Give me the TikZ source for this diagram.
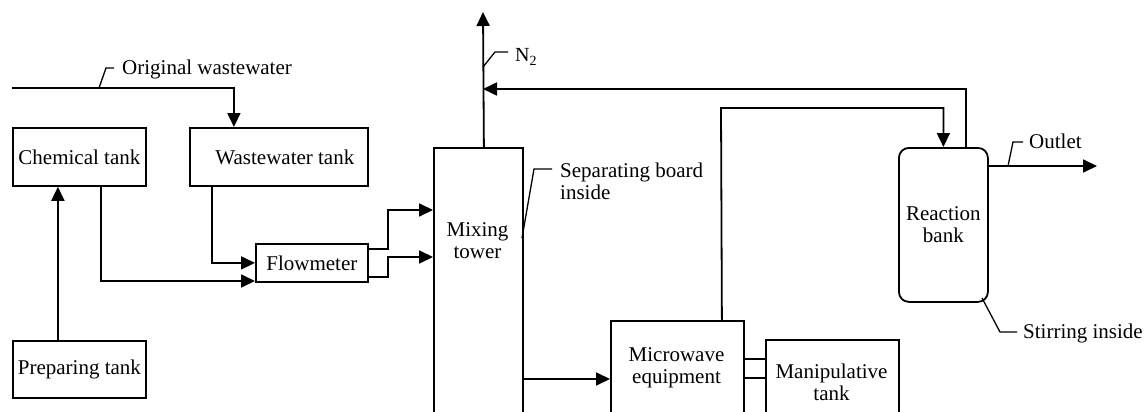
\documentclass[tikz,border=0pt]{standalone}
\usepackage{fontspec}
\setmainfont{Liberation Serif}
\usetikzlibrary{arrows.meta,calc}
\begin{document}
\begin{tikzpicture}[x=1pt,y=-1pt,
 every node/.style={font=\fontsize{21}{22}\selectfont},
 box/.style={draw, line width=1.8pt, inner sep=0pt, anchor=north west, align=center},
 ln/.style={line width=1.8pt},
 arr/.style={ln, -{Triangle[length=14pt,width=13pt]}},
 tick/.style={line width=1.3pt},
 lbl/.style={anchor=base west, inner sep=0pt}]
\useasboundingbox (0,0) rectangle (1144,412);
\clip (0,0) rectangle (1144,412);

% boxes
\node[box, minimum width=133, minimum height=58] (chem) at (12,127) {Chemical tank};
\node[box, minimum width=178, minimum height=58] (ww) at (189,127) {\hspace{12pt}Wastewater tank};
\node[box, minimum width=133, minimum height=57] (prep) at (12,340) {Preparing tank};
\node[box, minimum width=112, minimum height=38] (flow) at (255,243) {Flowmeter};
\node[box, minimum width=89, minimum height=300] (mix) at (433,147) {};
\node[align=center] (mixt) at (477.5,241) {Mixing\\tower};
\node[box, minimum width=133, minimum height=120] (micro) at (610,320) {};
\node[align=center] (microt) at (676.5,368) {Microwave\\equipment};
\node[box, minimum width=133, minimum height=100] (manip) at (765,339) {};
\node[align=center] (manipt) at (831.5,382) {Manipulative\\tank};
\node[box, rounded corners=10pt, minimum width=89, minimum height=154] (bank) at (898,147) {Reaction\\bank};

% coordinates
\coordinate (owstart) at (12,88);
\coordinate (a1) at (388,210);
\coordinate (a2) at (388,257);
\coordinate (n2top) at (483,12);
\coordinate (r89) at (483,89);
\coordinate (m108) at (721,108);
\coordinate (y379) at (0,379);
\coordinate (y359) at (0,359);
\coordinate (y378) at (0,378);
\coordinate (y281) at (0,281);
\coordinate (outend) at (1097,166);

% connectors
\draw[arr] (owstart) -| ([xshift=-45]ww.north);
\draw[arr] ([xshift=-21.5]prep.north) -- ([xshift=-21.5]chem.south);
\draw[arr] ([xshift=21.5]chem.south) |- (flow.west |- y281);
\draw[arr] ([xshift=-67]ww.south) |- (flow.west);
\draw[arr] ([yshift=14]flow.east) -| (a1) -- (a1 -| mix.west);
\draw[arr] ([yshift=-14]flow.east) -| (a2) -- (a2 -| mix.west);
\draw[arr] ([xshift=5.5]mix.north) -- (n2top);
\draw[arr] ([xshift=22.5]bank.north) |- (r89);
\draw[arr] ([xshift=44.5]micro.north) -- (m108) -| (bank.north);
\draw[arr] (mix.east |- y379) -- (micro.west |- y379);
\draw[ln] (micro.east |- y359) -- (manip.west |- y359);
\draw[ln] (micro.east |- y378) -- (manip.west |- y378);
\draw[arr] (bank.east |- outend) -- (outend);

% label ticks
\draw[tick] (99,88) -- (106,68) -- (114,68);
\node[lbl] (owl) at (122,75) {Original wastewater};
\draw[tick] (483,67) -- (495,52) -- (508,52);
\node[lbl, font=\fontsize{20}{22}\selectfont] (n2l) at (515,62) {N\textsubscript{2}};
\draw[tick] (522,238) -- (534,169) -- (552,169);
\node[lbl] (sep1) at (560,177) {Separating board};
\node[lbl] (sep2) at (560,199) {inside};
\draw[tick] (1008,166) -- (1013,142) -- (1023,142);
\node[lbl] (outl) at (1029,148) {Outlet};
\draw[tick] (982,298) -- (1000,332) -- (1017,332);
\node[lbl] (stl) at (1023,338) {Stirring inside};
\end{tikzpicture}
\end{document}
